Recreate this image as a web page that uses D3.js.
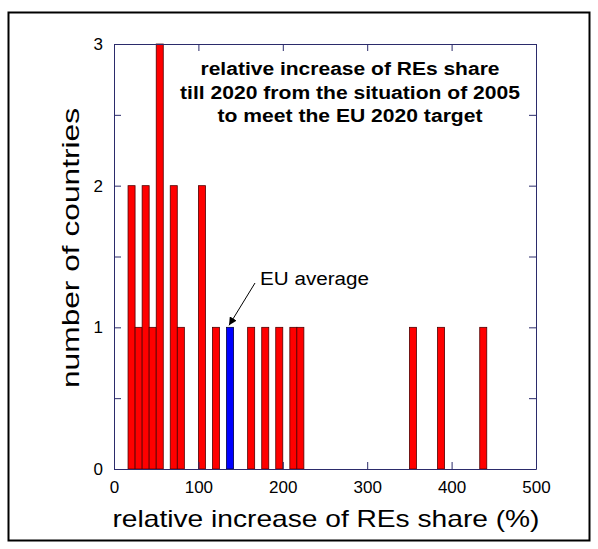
<!DOCTYPE html>
<html>
<head>
<meta charset="utf-8">
<script src="https://cdn.jsdelivr.net/npm/d3@7"></script>
<style>
    body { margin: 0; background: #fff; }
    text { font-family: Arial, "Liberation Sans", sans-serif; fill: #000; }
</style>
</head>
<body>
<div id="chart"></div>
<script>
// histogram bins (centre of each bin, % increase) and number of countries in each
const binCenters = [20.8, 29.2, 37.5, 45.8, 54.2, 70.8, 79.2, 104.2, 120.8, 137.5,
                    162.5, 179.2, 195.8, 212.5, 220.8, 354.2, 387.5, 437.5];
const counts = [2, 1, 2, 1, 3, 2, 1, 2, 1, 1, 1, 1, 1, 1, 1, 1, 1, 1];
const binWidth = 8.33;
const euAverage = 137.5;

const xTicks = [0, 100, 200, 300, 400, 500];
const yTicks = [0, 0.5, 1, 1.5, 2, 2.5, 3];
const yLabels = [0, 1, 2, 3];
const titleLines = ["relative increase of REs share",
                    "till 2020 from the situation of 2005",
                    "to meet the EU 2020 target"];

const width = 598;
const height = 549;
const margin = { left: 114, right: 62, top: 44, bottom: 80 };
const axisColor = "#2b2b6b";

const svg = d3.select("#chart")
    .append("svg")
    .attr("width", width)
    .attr("height", height);

// outer frame
svg.append("rect")
    .attr("x", 8.5)
    .attr("y", 12.5)
    .attr("width", 581)
    .attr("height", 528)
    .attr("fill", "none")
    .attr("stroke", "#000")
    .attr("stroke-width", 2);

const x = d3.scaleLinear()
    .domain([0, 500])
    .range([margin.left, width - margin.right]);

const y = d3.scaleLinear()
    .domain([0, 3])
    .range([height - margin.bottom, margin.top]);

// bars
svg.append("g")
    .selectAll("rect")
    .data(binCenters.map((c, i) => ({ c: c, n: counts[i] })))
    .enter()
    .append("rect")
    .attr("x", d => x(d.c - binWidth / 2))
    .attr("y", d => y(d.n))
    .attr("width", d => x(d.c + binWidth / 2) - x(d.c - binWidth / 2))
    .attr("height", d => y(0) - y(d.n))
    .attr("fill", d => d.c === euAverage ? "#0000ff" : "#ff0000")
    .attr("stroke", d => d.c === euAverage ? "#000040" : "#500000")
    .attr("stroke-width", 0.8);

// axes with inward ticks on all four sides
const tickLen = 7;
function styleAxis(g) {
    g.select(".domain").attr("stroke", axisColor);
    g.selectAll(".tick line").attr("stroke", axisColor);
}

svg.append("g")
    .attr("transform", `translate(0,${y(0)})`)
    .call(d3.axisBottom(x).tickValues(xTicks).tickSize(-tickLen).tickSizeOuter(0))
    .call(styleAxis)
    .call(g => g.selectAll(".tick text")
        .attr("font-size", 17)
        .attr("dy", "0.71em")
        .attr("y", 12)
        .style("font-family", "Arial, 'Liberation Sans', sans-serif")
        .attr("fill", "#000"));

svg.append("g")
    .attr("transform", `translate(0,${y(3)})`)
    .call(d3.axisTop(x).tickValues(xTicks).tickSize(-tickLen).tickSizeOuter(0).tickFormat(""))
    .call(styleAxis);

svg.append("g")
    .attr("transform", `translate(${x(0)},0)`)
    .call(d3.axisLeft(y).tickValues(yTicks).tickSize(-tickLen).tickSizeOuter(0)
        .tickFormat(d => yLabels.includes(d) ? d : ""))
    .call(styleAxis)
    .call(g => g.selectAll(".tick text")
        .attr("font-size", 17)
        .attr("x", -11)
        .style("font-family", "Arial, 'Liberation Sans', sans-serif")
        .attr("fill", "#000"));

svg.append("g")
    .attr("transform", `translate(${x(500)},0)`)
    .call(d3.axisRight(y).tickValues(yTicks).tickSize(-tickLen).tickSizeOuter(0).tickFormat(""))
    .call(styleAxis);

// axis titles
svg.append("text")
    .attr("x", 326)
    .attr("y", 527)
    .attr("text-anchor", "middle")
    .attr("font-size", 24)
    .attr("textLength", 427)
    .attr("lengthAdjust", "spacingAndGlyphs")
    .text("relative increase of REs share (%)");

svg.append("text")
    .attr("transform", "translate(79,248) rotate(-90)")
    .attr("text-anchor", "middle")
    .attr("font-size", 24)
    .attr("textLength", 280)
    .attr("lengthAdjust", "spacingAndGlyphs")
    .text("number of countries");

// title block inside the plot
const titleSpans = [299, 340, 265];
svg.append("g")
    .selectAll("text")
    .data(titleLines)
    .enter()
    .append("text")
    .attr("x", 350)
    .attr("y", (d, i) => 75 + i * 23.5)
    .attr("text-anchor", "middle")
    .attr("font-size", 18)
    .attr("font-weight", "bold")
    .attr("textLength", (d, i) => titleSpans[i])
    .attr("lengthAdjust", "spacingAndGlyphs")
    .text(d => d);

// EU average annotation
svg.append("defs")
    .append("marker")
    .attr("id", "head")
    .attr("viewBox", "0 0 10 10")
    .attr("refX", 10)
    .attr("refY", 5)
    .attr("markerWidth", 8)
    .attr("markerHeight", 8)
    .attr("markerUnits", "userSpaceOnUse")
    .attr("orient", "auto")
    .append("path")
    .attr("d", "M0,0 L10,5 L0,10 Z")
    .attr("fill", "#000");

svg.append("line")
    .attr("x1", 255)
    .attr("y1", 283)
    .attr("x2", x(euAverage) - 1)
    .attr("y2", y(1) - 2)
    .attr("stroke", "#000")
    .attr("stroke-width", 1)
    .attr("marker-end", "url(#head)");

svg.append("text")
    .attr("x", 260)
    .attr("y", 285)
    .attr("font-size", 18)
    .attr("textLength", 109)
    .attr("lengthAdjust", "spacingAndGlyphs")
    .text("EU average");
</script>
</body>
</html>
